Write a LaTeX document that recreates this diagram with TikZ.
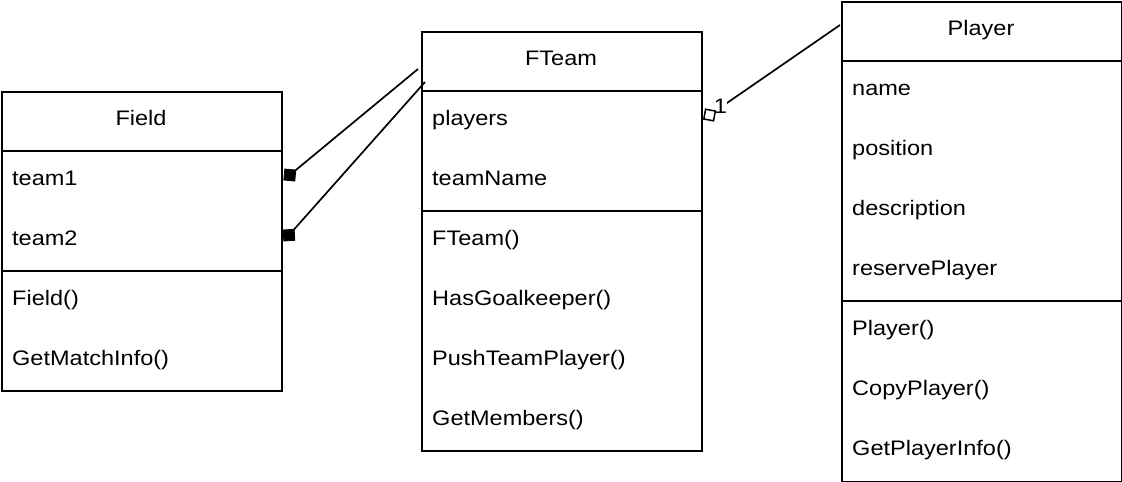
\documentclass[tikz,border=0pt]{standalone}
\usepackage{fontspec}
\setmainfont{Liberation Sans}[FakeStretch=1.12]
\usetikzlibrary{calc}
\begin{document}
\begin{tikzpicture}[x=1pt,y=-1pt,
  every node/.style={font=\fontsize{21}{25}\selectfont},
  classbox/.style={draw,line width=1.8pt,anchor=north west,inner sep=0pt},
  divider/.style={line width=1.8pt},
  member/.style={anchor=base west,inner sep=0pt},
  title/.style={anchor=base,inner sep=0pt},
  assoc/.style={line width=1.7pt},
  tipfilled/.style={fill=black,draw=black,line width=0.8pt,line join=miter},
  tipopen/.style={fill=white,draw=black,line width=1.5pt,line join=miter}
]
\useasboundingbox (0,0) rectangle (1122,482);
% Field
\node[classbox,minimum width=280pt,minimum height=299pt] (field) at (1,91) {};
\node[title] (fieldT) at (141,125) {Field};
\draw[divider] (1,151) -- (281,151);
\node[member] (f1) at (12,185) {team1};
\node[member] (f2) at (12,245) {team2};
\draw[divider] (1,271) -- (281,271);
\node[member] (f3) at (12,305) {Field()};
\node[member] (f4) at (12,365) {GetMatchInfo()};
% FTeam
\node[classbox,minimum width=280pt,minimum height=419pt] (fteam) at (421,31) {};
\node[title] (fteamT) at (561,65) {FTeam};
\draw[divider] (421,91) -- (701,91);
\node[member] (t1) at (432,125) {players};
\node[member] (t2) at (432,185) {teamName};
\draw[divider] (421,211) -- (701,211);
\node[member] (t3) at (432,245) {FTeam()};
\node[member] (t4) at (432,305) {HasGoalkeeper()};
\node[member] (t5) at (432,365) {PushTeamPlayer()};
\node[member] (t6) at (432,425) {GetMembers()};
% Player
\node[classbox,minimum width=280pt,minimum height=480pt] (player) at (841,1) {};
\node[title] (playerT) at (981,35) {Player};
\draw[divider] (841,61) -- (1121,61);
\node[member] (p1) at (852,95) {name};
\node[member] (p2) at (852,155) {position};
\node[member] (p3) at (852,215) {description};
\node[member] (p4) at (852,275) {reservePlayer};
\draw[divider] (841,301) -- (1121,301);
\node[member] (p5) at (852,335) {Player()};
\node[member] (p6) at (852,395) {CopyPlayer()};
\node[member] (p7) at (852,455) {GetPlayerInfo()};
% connector end points
\coordinate (s1) at ($(field.north east)+(1,89)$);
\coordinate (e1) at ($(fteam.north west)+(-3,38)$);
\coordinate (s2) at ($(field.north east)+(1,150)$);
\coordinate (e2) at ($(fteam.north west)+(4,51)$);
\coordinate (s3) at ($(fteam.north east)+(1,88)$);
\coordinate (e3) at ($(player.north west)+(-1,24)$);
\draw[assoc,shorten <=15pt] (s1) -- (e1);
\draw[assoc,shorten <=15pt] (s2) -- (e2);
\draw[assoc,shorten <=14pt] (s3) -- (e3);
% diamonds
\draw[tipfilled] (s1) -- ($(s1)!7.8pt!(e1)!7.8pt!90:(e1)$) -- ($(s1)!15.6pt!(e1)$) -- ($(s1)!7.8pt!(e1)!7.8pt!-90:(e1)$) -- cycle;
\draw[tipfilled] (s2) -- ($(s2)!7.8pt!(e2)!7.8pt!90:(e2)$) -- ($(s2)!15.6pt!(e2)$) -- ($(s2)!7.8pt!(e2)!7.8pt!-90:(e2)$) -- cycle;
\node[fill=white,inner sep=0pt] (mult) at (720.5,106) {1};
\draw[tipopen] (s3) -- ($(s3)!7pt!(e3)!7pt!90:(e3)$) -- ($(s3)!14pt!(e3)$) -- ($(s3)!7pt!(e3)!7pt!-90:(e3)$) -- cycle;
\end{tikzpicture}
\end{document}
